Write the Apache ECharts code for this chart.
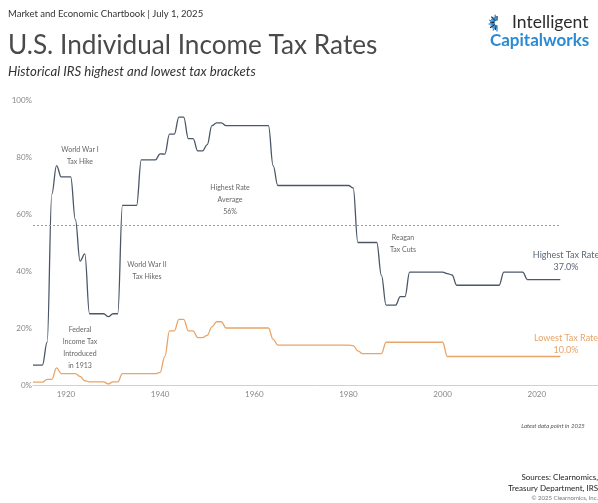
<!DOCTYPE html>
<html><head><meta charset="utf-8">
<script src="https://cdn.jsdelivr.net/npm/echarts@6/dist/echarts.min.js"></script>
<style>html,body{margin:0;padding:0;background:#fff}#c{width:598px;height:503px}</style>
</head><body><div id="c"></div>
<script>
// Data
const firstYear = 1913;
const lastYear = 2025;
const highestRate = [7,7,7,15,67,77,73,73,73,58,43.5,46,25,25,25,25,24,25,25,63,63,63,63,79,79,79,79,81.1,81,88,88,94,94,86.45,86.45,82.13,82.13,84.36,91,92,92,
  91,91,91,91,91,91,91,91,91,91,
  77,
  70,70,70,70,70,70,70,70,70,70,70,70,70,70,70,70,
  69.13,
  50,50,50,50,50,
  38.5,
  28,28,28,
  31,31,
  39.6,39.6,39.6,39.6,39.6,39.6,39.6,39.6,
  39.1,38.6,
  35,35,35,35,35,35,35,35,35,35,
  39.6,39.6,39.6,39.6,39.6,
  37,37,37,37,37,37,37,37];
const lowestRate = [1,1,1,2,2,6,4,4,4,4,3,1.5,1.125,1.125,1.125,1.125,0.375,1.125,1.125,
  4,4,4,4,4,4,4,4,
  4.4,10,19,19,23,23,19,19,16.6,16.6,17.4,20.4,22.2,22.2,
  20,20,20,20,20,20,20,20,20,20,
  16,
  14,14,14,14,14,14,14,14,14,14,14,14,14,14,14,14,
  13.825,12,11,11,11,11,11,
  15,15,15,15,15,15,15,15,15,15,15,15,15,
  10,
  10,10,10,10,10,10,10,10,10,10,10,10,10,10,10,10,10,10,10,10,10,10,10,10];
const averageHighest = 56;
const xTickLabels = [1920, 1940, 1960, 1980, 2000, 2020];

const years = [];
for (let y = firstYear; y <= lastYear; y++) years.push(y);
const highPairs = years.map((y, i) => [y, highestRate[i]]);
const lowPairs = years.map((y, i) => [y, lowestRate[i]]);

const FONT = 'Lato, "Noto Sans", sans-serif';
const HIGH_COLOR = '#4b5767';
const LOW_COLOR = '#e9a467';

const chart = echarts.init(document.getElementById('c'), null, {renderer: 'canvas'});

// logo starburst
const burst = [];
const cx = 497, cy = 23;
for (let k = 0; k < 14; k++) {
  const a = Math.PI * 0.5 + k * (Math.PI / 13);
  const r1 = 2.5, r2 = 7 + (k % 2) * 1.5;
  burst.push({
    type: 'line',
    shape: {x1: cx + Math.cos(a) * r1, y1: cy - Math.sin(a) * r1, x2: cx + Math.cos(a) * r2, y2: cy - Math.sin(a) * r2},
    style: {stroke: k % 3 === 0 ? '#1c2b4a' : '#2a8bd4', lineWidth: 1.3}
  });
}

const annot = (x, y, text, opts = {}) => ({
  type: 'text', x: x, y: y,
  style: Object.assign({text: text, font: '7px ' + FONT, fill: '#666', textAlign: 'center', textVerticalAlign: 'top', lineHeight: 12}, opts)
});

chart.setOption({
  backgroundColor: '#fff',
  animation: false,
  grid: {left: 33, right: 0, top: 100, bottom: 118, containLabel: false},
  xAxis: {
    type: 'value', min: 1913, max: 2033,
    axisLine: {show: true, lineStyle: {color: '#d0d0d0', width: 1}},
    axisTick: {show: false},
    splitLine: {show: false},
    axisLabel: {customValues: xTickLabels, color: '#888', fontSize: 8, fontFamily: FONT, margin: 5, formatter: v => String(v)}
  },
  yAxis: {
    type: 'value', min: 0, max: 100, interval: 20,
    axisLine: {show: false}, axisTick: {show: false}, splitLine: {show: false},
    axisLabel: {color: '#888', fontSize: 8, fontFamily: FONT, margin: 1, formatter: v => v + '%'}
  },
  series: [
    {
      type: 'line', name: 'Highest', data: highPairs, showSymbol: false,
      smooth: 0.4, smoothMonotone: 'x',
      lineStyle: {color: HIGH_COLOR, width: 1.3},
      markLine: {
        silent: true, symbol: 'none', label: {show: false},
        lineStyle: {color: '#9a9a9a', type: [2, 2], width: 1},
        data: [[{coord: [firstYear, averageHighest]}, {coord: [lastYear, averageHighest]}]]
      }
    },
    {
      type: 'line', name: 'Lowest', data: lowPairs, showSymbol: false,
      smooth: 0.4, smoothMonotone: 'x',
      lineStyle: {color: LOW_COLOR, width: 1.3}
    }
  ],
  graphic: [
    {type: 'text', x: 8, y: 9, style: {text: 'Market and Economic Chartbook | July 1, 2025', font: '9.5px ' + FONT, fill: '#333'}},
    {type: 'text', x: 8, y: 33, style: {text: 'U.S. Individual Income Tax Rates', font: '26.2px ' + FONT, fill: '#4a4a4a'}},
    {type: 'text', x: 8, y: 65, style: {text: 'Historical IRS highest and lowest tax brackets', font: 'italic 13.2px ' + FONT, fill: '#333'}},
    {type: 'text', x: 512, y: 13, style: {text: 'Intelligent', font: '17.5px ' + FONT, fill: '#2b2b2b'}},
    {type: 'text', x: 490, y: 32, style: {text: 'Capitalworks', font: 'bold 17px ' + FONT, fill: '#2a8bd4'}},
    ...burst,
    annot(80, 144, 'World War I\nTax Hike'),
    annot(230, 182, 'Highest Rate\nAverage\n' + averageHighest + '%'),
    annot(147, 259, 'World War II\nTax Hikes'),
    annot(80, 324, 'Federal\nIncome Tax\nIntroduced\nin 1913'),
    annot(403, 232, 'Reagan\nTax Cuts'),
    annot(566, 249, 'Highest Tax Rate\n' + highestRate[highestRate.length - 1].toFixed(1) + '%', {fill: '#5a6675', font: '9px ' + FONT}),
    annot(566, 332, 'Lowest Tax Rate\n' + lowestRate[lowestRate.length - 1].toFixed(1) + '%', {fill: LOW_COLOR, font: '9px ' + FONT}),
    annot(553, 420, 'Latest data point in ' + lastYear, {font: 'italic 6px ' + FONT, fill: '#555'}),
    {type: 'text', x: 598, y: 472, style: {text: 'Sources: Clearnomics,\nTreasury Department, IRS', font: '8px ' + FONT, fill: '#222', textAlign: 'right', lineHeight: 11}},
    {type: 'text', x: 598, y: 495, style: {text: '© 2025 Clearnomics, Inc.', font: '6px ' + FONT, fill: '#777', textAlign: 'right'}}
  ]
});
</script>
</body></html>
